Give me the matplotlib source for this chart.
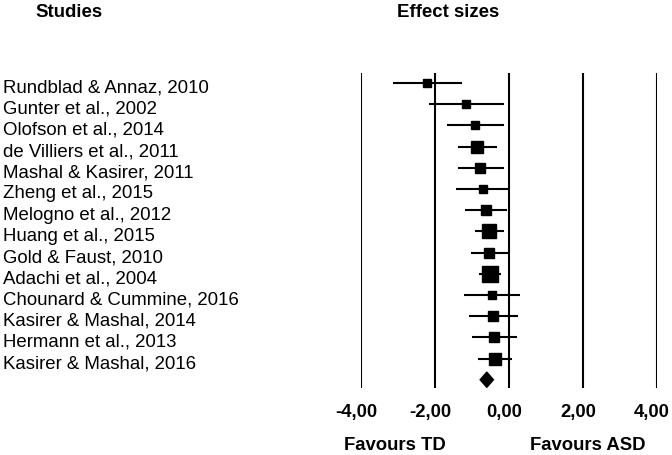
import numpy as np
import matplotlib
matplotlib.use("Agg")
import matplotlib.pyplot as plt
from matplotlib.transforms import blended_transform_factory, ScaledTranslation

plt.rcParams["font.family"] = ["Liberation Sans", "DejaVu Sans"]

# Data
studies = [
    "Rundblad & Annaz, 2010", "Gunter et al., 2002", "Olofson et al., 2014",
    "de Villiers et al., 2011", "Mashal & Kasirer, 2011", "Zheng et al., 2015",
    "Melogno et al., 2012", "Huang et al., 2015", "Gold & Faust, 2010",
    "Adachi et al., 2004", "Chounard & Cummine, 2016", "Kasirer & Mashal, 2014",
    "Hermann et al., 2013", "Kasirer & Mashal, 2016",
]
effect = [-2.21, -1.15, -0.92, -0.86, -0.78, -0.71, -0.62, -0.53, -0.53, -0.51, -0.46, -0.42, -0.40, -0.38]
ci_low = [-3.13, -2.16, -1.68, -1.37, -1.39, -1.42, -1.18, -0.91, -1.02, -0.80, -1.22, -1.08, -0.99, -0.83]
ci_high = [-1.28, -0.13, -0.14, -0.33, -0.14, -0.02, -0.06, -0.14, -0.02, -0.22, 0.31, 0.23, 0.21, 0.07]
weights = [3.5, 3.5, 3.5, 8.4, 6.1, 4.5, 6.5, 11.6, 7.9, 18.2, 4.2, 5.6, 6.1, 10.5]
pooled = -0.60
pooled_low = -0.78
pooled_high = -0.42
xticks = [-4, -2, 0, 2, 4]

W, H = 672, 456
fig = plt.figure(figsize=(W / 100, H / 100), dpi=100)
ax = fig.add_axes([361 / W, 1 - 389 / H, 296 / W, 315 / H])

n = len(studies)
rows = np.arange(n)

for t in xticks:
    ax.axvline(t, color="black", lw=1.5, zorder=1)

ax.hlines(rows, ci_low, ci_high, color="black", lw=1.5, zorder=2)
for r, e, w in zip(rows, effect, weights):
    side = 3.91 * np.sqrt(w) * 0.72
    ax.plot(e, r, marker="s", color="black", markersize=side, zorder=3, linestyle="none")

# pooled diamond
half_h = 0.36
ax.fill([pooled_low, pooled, pooled_high, pooled],
        [n, n - half_h, n, n + half_h], color="black", zorder=3)

ax.set_xlim(-4, 4)
ax.set_ylim(n + 0.39, -0.47)
ax.set_yticks([])
ax.set_xticks(xticks)
ax.set_xticklabels([f"{t:.2f}".replace(".", ",") for t in xticks],
                   fontsize=13.3, fontweight="bold")
ax.tick_params(axis="x", length=0, pad=11)
for lab in ax.get_xticklabels():
    lab.set_transform(lab.get_transform() + ScaledTranslation(-5 / 100, 0, fig.dpi_scale_trans))
for s in ax.spines.values():
    s.set_visible(False)

# study labels
trans = blended_transform_factory(fig.transFigure, ax.transData) + \
    ScaledTranslation(0, -8.5 / 100, fig.dpi_scale_trans)
for r, name in zip(rows, studies):
    fig.text(3 / W, r, name, transform=trans, fontsize=13.4, ha="left", va="baseline")

fig.text(35 / W, 1 - 12.5 / H, "Studies", fontsize=13.4, fontweight="bold", ha="left", va="center")
fig.text(448 / W, 1 - 12.5 / H, "Effect sizes", fontsize=13.4, fontweight="bold", ha="center", va="center")
fig.text(395 / W, 1 - 446 / H, "Favours TD", fontsize=13.3, fontweight="bold", ha="center", va="center")
fig.text(588 / W, 1 - 446 / H, "Favours ASD", fontsize=13.3, fontweight="bold", ha="center", va="center")

fig.savefig("out.png", dpi=100)
